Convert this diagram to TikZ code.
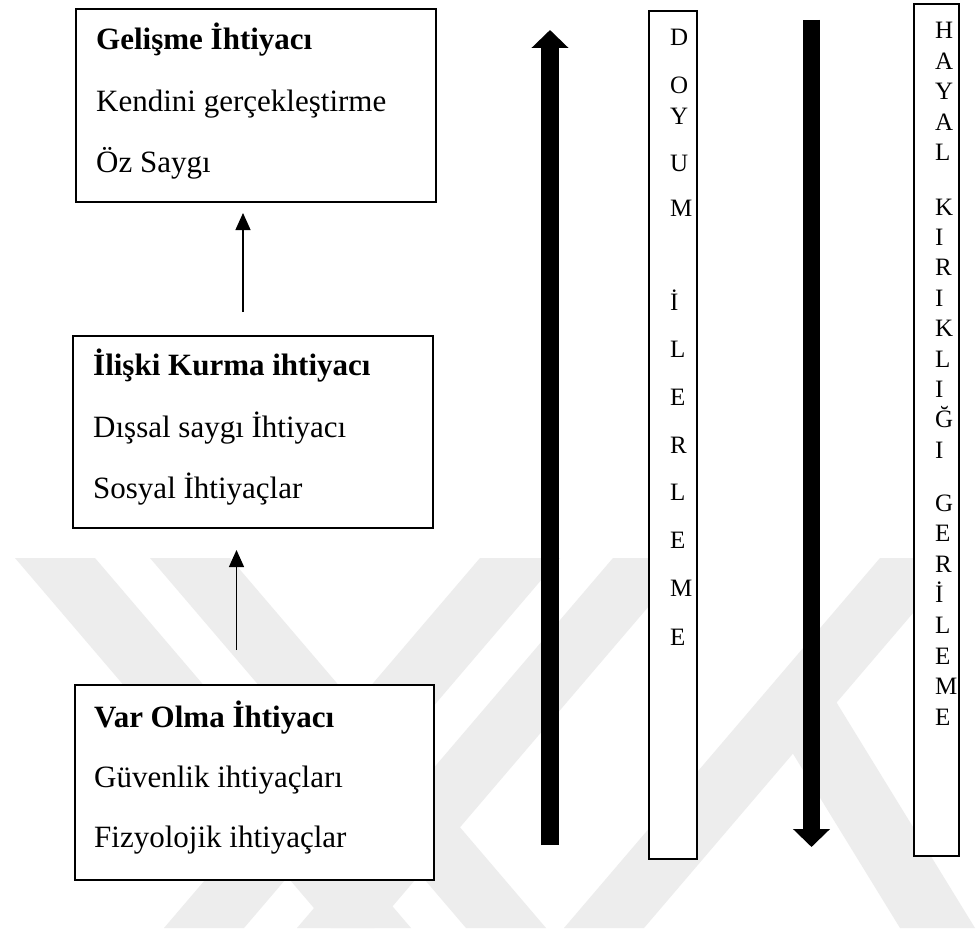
\documentclass[tikz,border=0pt]{standalone}
\usepackage{fontspec}
\setmainfont{Liberation Serif}
\usetikzlibrary{arrows.meta}
\begin{document}
\begin{tikzpicture}[x=1pt,y=-1pt,
  box/.style={draw=black, line width=1.5pt, fill=white, inner sep=0pt, outer sep=0pt, anchor=north west},
  bodytext/.style={anchor=base west, inner sep=0pt, font=\fontsize{31}{37}\selectfont},
  headtext/.style={anchor=base west, inner sep=0pt, font=\fontsize{31}{37}\selectfont\bfseries},
  colletter/.style={anchor=base west, inner sep=0pt, font=\fontsize{25}{30}\selectfont},
  thinarrow/.style={line width=1.2pt, -{Triangle[width=15pt,length=17pt]}},
  bigarrow/.style={line width=18pt, -{Triangle[width=36pt,length=18pt]}},
  wm/.style={fill=black!7, draw=none}]
\useasboundingbox (0,0) rectangle (977,934);
\fill[white] (0,0) rectangle (977,934);
% watermark
\fill[wm] (15,558) -- (95,558) -- (411,928) -- (331,928) -- cycle;
\fill[wm] (150,558) -- (230,558) -- (546,928) -- (466,928) -- cycle;
\fill[wm] (480,558) -- (560,558) -- (244,928) -- (164,928) -- cycle;
\fill[wm] (613,558) -- (690,558) -- (374,928) -- (297,928) -- cycle;
\fill[wm] (880,558) -- (960,558) -- (644,928) -- (564,928) -- cycle;
\fill[wm] (760,700) -- (835,700) -- (975,928) -- (900,928) -- cycle;
% left boxes
\node[box, minimum width=360pt, minimum height=193pt] (b1) at (76,9) {};
\node[headtext] (b1h) at (96,50) {Gelişme İhtiyacı};
\node[bodytext] (b1a) at (96,111) {Kendini gerçekleştirme};
\node[bodytext] (b1b) at (96,172) {Öz Saygı};
\node[box, minimum width=360pt, minimum height=192pt] (b2) at (73,336) {};
\node[headtext] (b2h) at (93,375) {İlişki Kurma ihtiyacı};
\node[bodytext] (b2a) at (93,437) {Dışsal saygı İhtiyacı};
\node[bodytext] (b2b) at (93,498) {Sosyal İhtiyaçlar};
\node[box, minimum width=359pt, minimum height=195pt] (b3) at (75,685) {};
\node[headtext] (b3h) at (94,727) {Var Olma İhtiyacı};
\node[bodytext] (b3a) at (94,787) {Güvenlik ihtiyaçları};
\node[bodytext] (b3b) at (94,847) {Fizyolojik ihtiyaçlar};
% thin arrows
\coordinate (a1s) at (243,312);
\coordinate (a1e) at (243,213);
\draw[thinarrow] (a1s) -- (a1e);
\coordinate (a2s) at (236.5,650);
\coordinate (a2e) at (236.5,550);
\draw[thinarrow] (a2s) -- (a2e);
% thick arrows
\coordinate (u1s) at (550,845);
\coordinate (u1e) at (550,30);
\draw[bigarrow] (u1s) -- (u1e);
\coordinate (d1s) at (811.5,20);
\coordinate (d1e) at (811.5,847);
\draw[bigarrow, line width=17pt] (d1s) -- (d1e);
% column boxes
\node[box, line width=1.4pt, minimum width=48pt, minimum height=848pt] (doyum) at (649,11) {};
\node[box, line width=1.4pt, minimum width=45pt, minimum height=852pt] (hayal) at (914,4) {};
\foreach \l/\y [count=\i] in {D/46, O/93, Y/124, U/171, M/216, İ/310, L/357, E/405, R/453, L/500, E/548, M/596, E/645}
  \node[colletter] (d\i) at (670,\y) {\l};
\foreach \l/\y [count=\i] in {H/39, A/69.4, Y/99.8, A/130.2, L/160.6, K/215, I/245.4, R/275.8, I/306.2, K/336.6, L/367, I/397.4, Ğ/427.8, I/458.2, G/511, E/541.6, R/572.2, İ/602.8, L/633.4, E/664, M/694.6, E/725.2}
  \node[colletter] (h\i) at (935,\y) {\l};
\end{tikzpicture}
\end{document}
